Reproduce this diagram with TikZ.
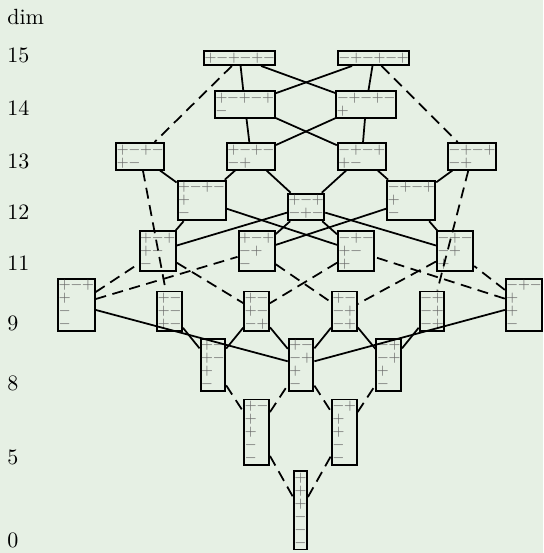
\documentclass[tikz,border=0pt]{standalone}
\usepackage{amsmath,amssymb}
\definecolor{bgcol}{RGB}{230,240,228}
\definecolor{signcol}{RGB}{105,105,105}
\newcommand{\sgnp}{\makebox[5.3pt]{$+$}}
\newcommand{\sgnm}{\makebox[5.3pt]{$-$}}

\begin{document}
\begin{tikzpicture}[tab/.style={draw, line width=0.9pt, anchor=south, inner xsep=0.3pt, inner ysep=0.75pt, align=left, text=signcol, font=\fontsize{6pt}{5.9pt}\selectfont},
    lab/.style={anchor=base west, inner sep=0pt},
    rel/.style={thick}, drel/.style={thick, dash pattern=on 5pt off 3pt}]
        \fill[bgcol] (0,0) rectangle (8.675,8.834);
        \useasboundingbox (0,0) rectangle (8.675,8.834);
        % dimensions
        \node[lab] (ldim) at (0.11,8.45) {dim};
        \node[lab] (l15) at (0.11,7.83) {15};
        \node[lab] (l14) at (0.11,6.99) {14};
        \node[lab] (l13) at (0.11,6.15) {13};
        \node[lab] (l12) at (0.11,5.33) {12};
        \node[lab] (l11) at (0.11,4.52) {11};
        \node[lab] (l9) at (0.11,3.56) {9};
        \node[lab] (l8) at (0.11,2.60) {8};
        \node[lab] (l5) at (0.11,1.42) {5};
        \node[lab] (l0) at (0.11,0.08) {0};
        % signed tableaux
        \node[tab] (A15) at (3.83,7.78) {\sgnp\sgnm\sgnp\sgnm\sgnp\sgnm};
        \node[tab] (B15) at (5.97,7.78) {\sgnm\sgnp\sgnm\sgnp\sgnm\sgnp};
        \node[tab] (A14) at (3.91,6.94) {\sgnp\sgnm\sgnp\sgnm\sgnp\\\sgnm};
        \node[tab] (B14) at (5.85,6.94) {\sgnm\sgnp\sgnm\sgnp\sgnm\\\sgnp};
        \node[tab] (A13) at (2.24,6.11) {\sgnp\sgnm\sgnp\sgnm\\\sgnp\sgnm};
        \node[tab] (B13) at (4.01,6.11) {\sgnp\sgnm\sgnp\sgnm\\\sgnm\sgnp};
        \node[tab] (C13) at (5.78,6.11) {\sgnm\sgnp\sgnm\sgnp\\\sgnp\sgnm};
        \node[tab] (D13) at (7.54,6.11) {\sgnm\sgnp\sgnm\sgnp\\\sgnm\sgnp};
        \node[tab] (A12) at (3.22,5.30) {\sgnp\sgnm\sgnp\sgnm\\\sgnp\\\sgnm};
        \node[tab] (B12) at (4.89,5.30) {\sgnp\sgnm\sgnp\\\sgnm\sgnp\sgnm};
        \node[tab] (C12) at (6.57,5.30) {\sgnm\sgnp\sgnm\sgnp\\\sgnp\\\sgnm};
        \node[tab] (A11) at (2.52,4.49) {\sgnp\sgnm\sgnp\\\sgnp\sgnm\\\sgnm};
        \node[tab] (B11) at (4.10,4.49) {\sgnp\sgnm\sgnp\\\sgnm\sgnp\\\sgnm};
        \node[tab] (C11) at (5.69,4.49) {\sgnm\sgnp\sgnm\\\sgnp\sgnm\\\sgnp};
        \node[tab] (D11) at (7.27,4.49) {\sgnm\sgnp\sgnm\\\sgnm\sgnp\\\sgnp};
        \node[tab] (L9) at (1.22,3.53) {\sgnp\sgnm\sgnp\\\sgnp\\\sgnm\\\sgnm};
        \node[tab] (A9) at (2.71,3.53) {\sgnp\sgnm\\\sgnp\sgnm\\\sgnp\sgnm};
        \node[tab] (B9) at (4.10,3.53) {\sgnp\sgnm\\\sgnp\sgnm\\\sgnm\sgnp};
        \node[tab] (C9) at (5.50,3.53) {\sgnp\sgnm\\\sgnm\sgnp\\\sgnm\sgnp};
        \node[tab] (D9) at (6.90,3.53) {\sgnm\sgnp\\\sgnm\sgnp\\\sgnm\sgnp};
        \node[tab] (R9) at (8.37,3.53) {\sgnm\sgnp\sgnm\\\sgnp\\\sgnp\\\sgnm};
        \node[tab] (A8) at (3.40,2.57) {\sgnp\sgnm\\\sgnp\sgnm\\\sgnp\\\sgnm};
        \node[tab] (B8) at (4.81,2.57) {\sgnp\sgnm\\\sgnm\sgnp\\\sgnp\\\sgnm};
        \node[tab] (C8) at (6.21,2.57) {\sgnm\sgnp\\\sgnm\sgnp\\\sgnp\\\sgnm};
        \node[tab] (A5) at (4.10,1.39) {\sgnp\sgnm\\\sgnp\\\sgnp\\\sgnm\\\sgnm};
        \node[tab] (B5) at (5.50,1.39) {\sgnm\sgnp\\\sgnp\\\sgnp\\\sgnm\\\sgnm};
        \node[tab] (Z0) at (4.80,0.04) {\sgnp\\\sgnp\\\sgnp\\\sgnm\\\sgnm\\\sgnm};
        % solid relations
        \draw[rel] (A15) -- (A14); \draw[rel] (A15) -- (B14); \draw[rel] (B15) -- (A14); \draw[rel] (B15) -- (B14);
        \draw[rel] (A14) -- (B13); \draw[rel] (A14) -- (C13); \draw[rel] (B14) -- (B13); \draw[rel] (B14) -- (C13);
        \draw[rel] (A13) -- (A12) -- (B13) -- (B12) -- (C13) -- (C12) -- (D13);
        \draw[rel] (A12) -- (A11); \draw[rel] (A12) -- (C11); \draw[rel] (C12) -- (B11); \draw[rel] (C12) -- (D11);
        \draw[rel] (B12) -- (A11); \draw[rel] (B12) -- (B11); \draw[rel] (B12) -- (C11); \draw[rel] (B12) -- (D11);
        \draw[rel] (A9) -- (A8) -- (B9) -- (B8) -- (C9) -- (C8) -- (D9);
        \draw[rel] (L9) -- (B8); \draw[rel] (R9) -- (B8);
        % dashed relations
        \draw[drel] (A15) -- (A13); \draw[drel] (B15) -- (D13);
        \draw[drel] (A13) -- (A9); \draw[drel] (D13) -- (D9);
        \draw[drel] (L9) -- (A11); \draw[drel] (L9) -- (B11); \draw[drel] (R9) -- (C11); \draw[drel] (R9) -- (D11);
        \draw[drel] (A11) -- (B9); \draw[drel] (B11) -- (C9); \draw[drel] (C11) -- (B9); \draw[drel] (D11) -- (C9);
        \draw[drel] (A8) -- (A5) -- (B8) -- (B5) -- (C8);
        \draw[drel] (A5) -- (Z0) -- (B5);
    \end{tikzpicture}
\end{document}
